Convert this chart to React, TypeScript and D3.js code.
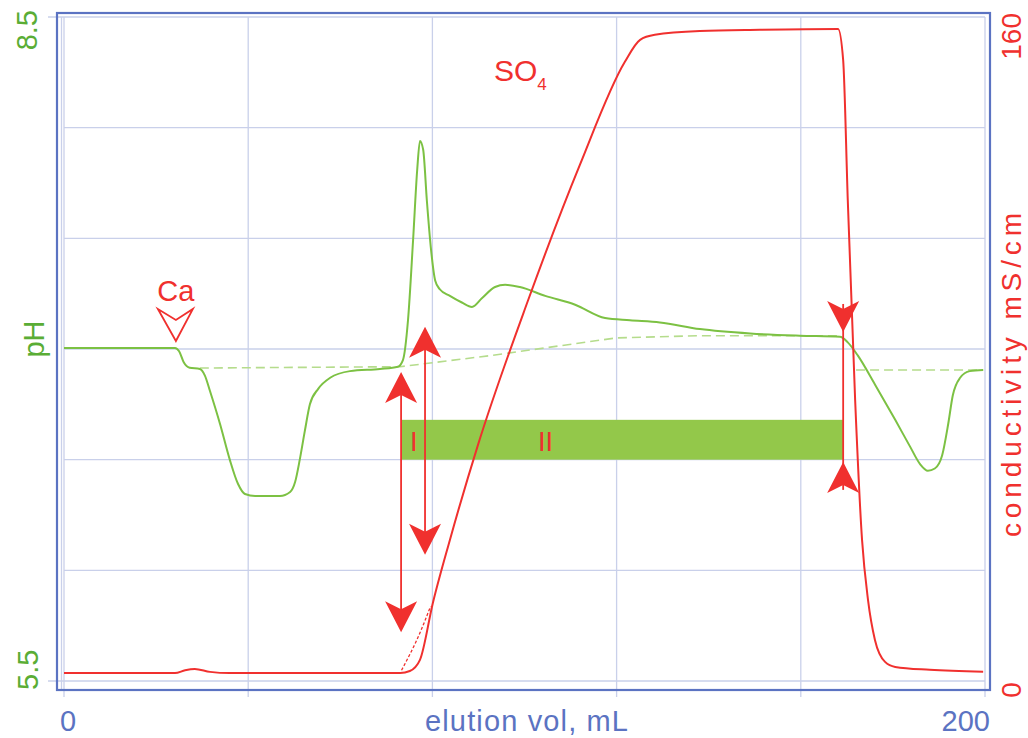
import React from "react";
import * as d3 from "d3";

// ---- data ----
const xTicks = [0, 40, 80, 120, 160, 200];
const xTickLabels = ["0", "200"];
const phTicks = [5.5, 6.0, 6.5, 7.0, 7.5, 8.0, 8.5];
const phTickLabels = ["5.5", "8.5"];
const condTickLabels = ["0", "160"];

// pH trace: [elution vol mL, pH]
const phVol = [0, 24.1, 25.0, 26.0, 27.3, 29.5, 30.6, 31.7, 33.9, 36.0, 37.8, 39.3, 41.5, 46.9, 49.1, 50.2, 51.2, 52.3, 53.4, 55.2, 57.8, 62.1, 68.6, 72.5, 73.6, 74.7, 75.8, 76.7, 77.3, 78.0, 78.8, 79.7, 80.6, 81.6, 83.8, 86.4, 88.6, 90.8, 93.6, 95.8, 99.0, 104.5, 111.0, 117.5, 122.9, 129.4, 138.1, 149.0, 159.8, 168.5, 170.2, 172.4, 176.1, 180.5, 183.7, 185.9, 187.6, 189.1, 190.7, 192.0, 193.0, 194.6, 196.7, 199.6];
const phVal = [7.005, 7.005, 6.99, 6.94, 6.915, 6.91, 6.88, 6.81, 6.66, 6.50, 6.39, 6.345, 6.336, 6.336, 6.354, 6.40, 6.50, 6.63, 6.75, 6.82, 6.87, 6.90, 6.91, 6.92, 6.95, 7.13, 7.49, 7.81, 7.94, 7.90, 7.67, 7.45, 7.31, 7.27, 7.24, 7.21, 7.19, 7.23, 7.28, 7.29, 7.28, 7.24, 7.20, 7.14, 7.13, 7.12, 7.09, 7.07, 7.06, 7.055, 7.03, 6.97, 6.84, 6.68, 6.56, 6.48, 6.45, 6.46, 6.52, 6.66, 6.79, 6.87, 6.90, 6.905];

// pH baseline (dashed)
const baseVolA = [29.5, 73.0, 92.5, 119.9, 138.1, 168.1];
const baseValA = [6.914, 6.92, 6.97, 7.05, 7.06, 7.06];
const baseVolB = [172.0, 199.6];
const baseValB = [6.905, 6.905];

// conductivity trace: [elution vol mL, mS/cm]
const condVol = [0, 24.1, 26.3, 28.4, 31.7, 36.0, 73.0, 75.1, 77.3, 80.1, 83.8, 89.9, 100.8, 112.0, 121.8, 125.1, 128.3, 138.1, 151.1, 168.1, 169.2, 170.2, 171.8, 173.3, 174.6, 176.1, 178.3, 180.5, 188.0, 199.6];
const condVal = [1.9, 1.9, 2.6, 2.9, 2.2, 1.9, 1.9, 2.4, 5.1, 18.8, 34.0, 56.9, 91.8, 124.3, 149.2, 154.5, 155.7, 156.6, 156.9, 157.1, 149.6, 115.9, 67.7, 34.0, 19.5, 9.9, 4.6, 3.4, 2.7, 2.2];
// dashed extrapolation at start of gradient
const condDashVol = [73.3, 77.3, 79.6];
const condDashVal = [2.6, 11.6, 18.0];

// annotations
const arrowVols = [73.2, 78.4];
const arrowTopPH = [6.896, 7.10];
const arrowBotPH = [5.72, 6.07];
const endArrowVol = 169.2;
const endArrowPH = [7.077, 6.49];
const barVol = [73.2, 169.2];
const barPH = [6.5, 6.68];
const caVol = 24.3;

const W = 1028, H = 738;
const x = d3.scaleLinear().domain([0, 200]).range([64, 985]);
const yPH = d3.scaleLinear().domain([5.5, 8.5]).range([681, 17]);
const yC = d3.scaleLinear().domain([0, 160]).range([681, 17]);

const BLUE = "#5b73c2";
const GRID = "#c9d0ea";
const GREEN = "#7cc143";
const GREENTXT = "#5aad35";
const RED = "#f0302e";
const BAR = "#93c84a";
const FONT = "'Liberation Sans', Arial, sans-serif";

function zip(a: number[], b: number[]): [number, number][] {
  return a.map((v, i) => [v, b[i]]);
}

const phLine = d3.line<[number, number]>().x(d => x(d[0])).y(d => yPH(d[1])).curve(d3.curveMonotoneX);
const phStraight = d3.line<[number, number]>().x(d => x(d[0])).y(d => yPH(d[1]));
const condLine = d3.line<[number, number]>().x(d => x(d[0])).y(d => yC(d[1])).curve(d3.curveMonotoneX);

function arrowHead(cx: number, tip: number, dir: number) {
  // dir = -1 pointing up, +1 pointing down
  const L = 31, N = 23, hw = 16;
  const b = tip - dir * L;
  const n = tip - dir * N;
  return `M${cx},${tip} L${cx - hw},${b} L${cx},${n} L${cx + hw},${b} Z`;
}

export default function App() {
  const gx = xTicks.map(t => x(t));
  const gy = phTicks.map(t => yPH(t));
  return (
    <svg width={W} height={H} style={{ position: "absolute", left: 0, top: 0, background: "#fff" }} fontFamily={FONT}>
      {/* grid */}
      {gx.map((px, i) => (
        <line key={"gx" + i} x1={px} x2={px} y1={17} y2={697} stroke={GRID} strokeWidth={1.3} />
      ))}
      {gy.map((py, i) => (
        <line key={"gy" + i} x1={i === 0 || i === gy.length - 1 ? 48 : 64} x2={985} y1={py} y2={py} stroke={GRID} strokeWidth={1.3} />
      ))}
      <line x1={61.5} x2={61.5} y1={17} y2={690} stroke={GRID} strokeWidth={1.3} />
      {/* frame */}
      <rect x={57} y={13} width={933} height={677} fill="none" stroke={BLUE} strokeWidth={2.2} />

      {/* bar */}
      <rect x={x(barVol[0])} y={yPH(barPH[1])} width={x(barVol[1]) - x(barVol[0])} height={yPH(barPH[0]) - yPH(barPH[1])} fill={BAR} />
      <text x={x(barVol[0]) + 9} y={yPH(barPH[0]) - 9} fill={RED} fontSize={27}>I</text>
      <text x={x(barVol[0]) + 137} y={yPH(barPH[0]) - 9} fill={RED} fontSize={27}>II</text>

      {/* pH baseline dashed */}
      <path d={phStraight(zip(baseVolA, baseValA)) || ""} fill="none" stroke="#b5dc8c" strokeWidth={1.6} strokeDasharray="9,5" />
      <path d={phStraight(zip(baseVolB, baseValB)) || ""} fill="none" stroke="#b5dc8c" strokeWidth={1.6} strokeDasharray="9,5" />

      {/* pH trace */}
      <path d={phLine(zip(phVol, phVal)) || ""} fill="none" stroke={GREEN} strokeWidth={2} strokeLinejoin="round" />

      {/* conductivity */}
      <path d={condLine(zip(condDashVol, condDashVal)) || ""} fill="none" stroke={RED} strokeWidth={1.3} strokeDasharray="3,2" />
      <path d={condLine(zip(condVol, condVal)) || ""} fill="none" stroke={RED} strokeWidth={2} strokeLinejoin="round" />

      {/* arrows */}
      {arrowVols.map((v, i) => {
        const cx = x(v);
        const t = yPH(arrowTopPH[i]);
        const b = yPH(arrowBotPH[i]);
        return (
          <g key={"ar" + i}>
            <line x1={cx} x2={cx} y1={t + 10} y2={b - 10} stroke={RED} strokeWidth={1.8} />
            <path d={arrowHead(cx, t, -1)} fill={RED} />
            <path d={arrowHead(cx, b, 1)} fill={RED} />
          </g>
        );
      })}
      {(() => {
        const cx = x(endArrowVol);
        const t = yPH(endArrowPH[0]);
        const b = yPH(endArrowPH[1]);
        return (
          <g>
            <line x1={cx} x2={cx} y1={t - 28} y2={b + 28} stroke={RED} strokeWidth={1.8} />
            <path d={arrowHead(cx, t, 1)} fill={RED} />
            <path d={arrowHead(cx, b, -1)} fill={RED} />
          </g>
        );
      })()}

      {/* Ca marker */}
      {(() => {
        const cx = x(caVol);
        return (
          <g>
            <path d={`M${cx},341 L${cx - 18},309 L${cx},320 L${cx + 17},309 Z`} fill="#fff" stroke={RED} strokeWidth={1.8} strokeLinejoin="miter" />
            <text x={cx} y={301} textAnchor="middle" fill={RED} fontSize={29}>Ca</text>
          </g>
        );
      })()}

      {/* SO4 */}
      <text x={494} y={81} fill={RED} fontSize={30}>
        SO<tspan fontSize={17} dy={9}>4</tspan>
      </text>

      {/* x axis labels */}
      <text x={x(0) - 4} y={731} fill={BLUE} fontSize={29}>{xTickLabels[0]}</text>
      <text x={990} y={731} textAnchor="end" fill={BLUE} fontSize={29}>{xTickLabels[1]}</text>
      <text x={425} y={731} fill={BLUE} fontSize={29} textLength={203} lengthAdjust="spacing">elution vol, mL</text>

      {/* left axis */}
      <text transform={`translate(38,${yPH(5.5) + 9}) rotate(-90)`} fill={GREENTXT} fontSize={29}>{phTickLabels[0]}</text>
      <text transform={`translate(37,${yPH(8.5) - 7}) rotate(-90)`} textAnchor="end" fill={GREENTXT} fontSize={29}>{phTickLabels[1]}</text>
      <text transform={`translate(44,339) rotate(-90)`} textAnchor="middle" fill={GREENTXT} fontSize={29}>pH</text>

      {/* right axis */}
      <text transform={`translate(1021,${yC(0) + 9}) rotate(-90)`} textAnchor="middle" fill={RED} fontSize={28}>{condTickLabels[0]}</text>
      <text transform={`translate(1021,${yC(160) - 4}) rotate(-90)`} textAnchor="end" fill={RED} fontSize={28}>{condTickLabels[1]}</text>
      <text transform={`translate(1021,375) rotate(-90)`} textAnchor="middle" fill={RED} fontSize={28} textLength={324} lengthAdjust="spacing">conductivity mS/cm</text>
    </svg>
  );
}
